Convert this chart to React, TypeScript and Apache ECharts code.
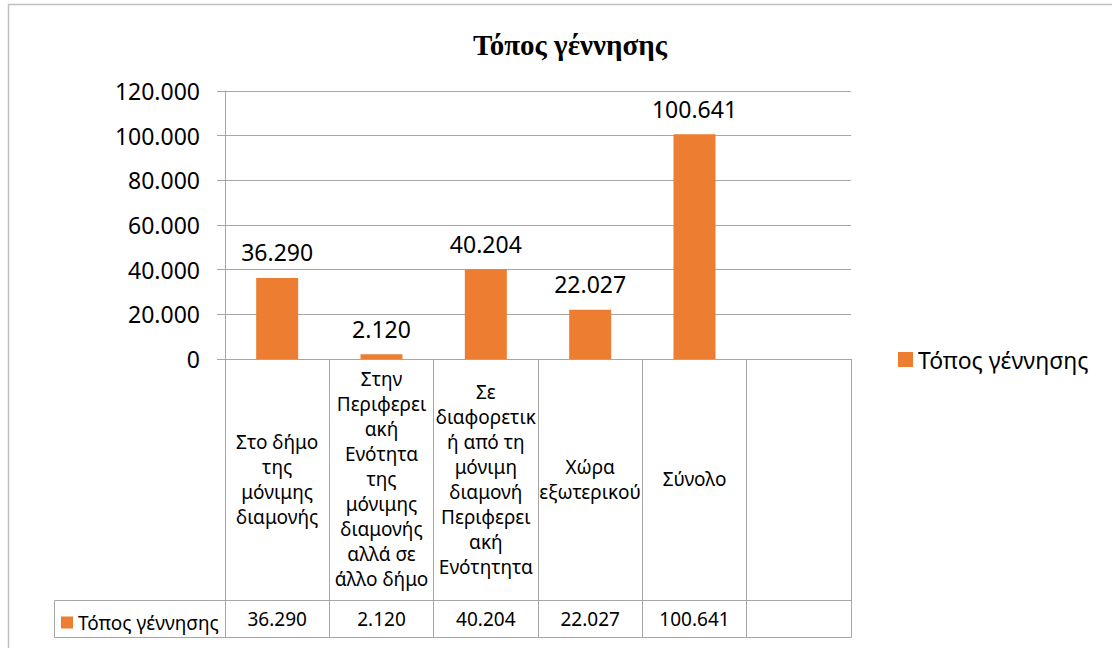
import React, { useEffect, useRef } from "react";
import * as echarts from "echarts";

const TITLE = "Τόπος γέννησης";
const SERIES_NAME = "Τόπος γέννησης";
const categories = [
  "Στο δήμο\nτης\nμόνιμης\nδιαμονής",
  "Στην\nΠεριφερει\nακή\nΕνότητα\nτης\nμόνιμης\nδιαμονής\nαλλά σε\nάλλο δήμο",
  "Σε\nδιαφορετικ\nή από τη\nμόνιμη\nδιαμονή\nΠεριφερει\nακή\nΕνότητητα",
  "Χώρα\nεξωτερικού",
  "Σύνολο",
  "",
];
const values: (number | null)[] = [36290, 2120, 40204, 22027, 100641, null];
const yMin = 0;
const yMax = 120000;
const yInterval = 20000;

const fmt = (v: number | null | undefined) =>
  v === null || v === undefined ? "" : String(v).replace(/\B(?=(\d{3})+(?!\d))/g, ".");

const W = 1112;
const H = 648;
const GL = 225;
const GR = 851;
const GT = 91;
const GB = 359;
const HEADER_H = 241;
const ROW_H = 37;
const TABLE_LEFT = 54;
const LINE = "#a6a6a6";
const FONT = "'Noto Sans', sans-serif";
const ORANGE = "#ED7D31";

export default function App() {
  const ref = useRef<HTMLDivElement>(null);
  useEffect(() => {
    if (!ref.current) return;
    const chart = echarts.init(ref.current, null, { renderer: "svg" });
    const rowTop = GB + HEADER_H;
    const rowBottom = rowTop + ROW_H;
    chart.setOption({
      animation: false,
      backgroundColor: "#fff",
      textStyle: { fontFamily: FONT },
      title: {
        text: TITLE,
        left: 468,
        top: 25,
        textStyle: {
          fontFamily: "'Liberation Serif', serif",
          fontWeight: "bold",
          fontSize: 29,
          color: "#000",
        },
      },
      legend: [
        {
          data: [SERIES_NAME],
          left: 893,
          top: 343,
          orient: "vertical",
          itemWidth: 15,
          itemHeight: 15,
          icon: "rect",
          textStyle: { fontSize: 23, color: "#000", fontFamily: FONT },
        },
        {
          data: [SERIES_NAME],
          left: 56,
          top: rowTop + 8,
          itemWidth: 12,
          itemHeight: 12,
          icon: "rect",
          selectedMode: false,
          textStyle: { fontSize: 19, color: "#000", fontFamily: FONT },
        },
      ],
      grid: { left: GL, right: W - GR, top: GT, bottom: H - GB, containLabel: false },
      xAxis: [
        {
          type: "category",
          data: categories,
          axisLine: { show: true, lineStyle: { color: LINE } },
          axisTick: { show: true, length: HEADER_H + ROW_H, lineStyle: { color: LINE } },
          axisLabel: {
            interval: 0,
            margin: 120,
            verticalAlign: "middle",
            align: "center",
            fontSize: 19,
            lineHeight: 25,
            color: "#000",
            fontFamily: FONT,
          },
        },
        {
          type: "category",
          data: categories,
          position: "bottom",
          offset: HEADER_H,
          axisLine: { show: true, lineStyle: { color: LINE } },
          axisTick: { show: false },
          axisLabel: {
            interval: 0,
            margin: ROW_H / 2,
            verticalAlign: "middle",
            fontSize: 19,
            color: "#000",
            fontFamily: FONT,
            formatter: (_v: string, i: number) => fmt(values[i]),
          },
        },
      ],
      yAxis: {
        type: "value",
        min: yMin,
        max: yMax,
        interval: yInterval,
        axisLine: { show: true, lineStyle: { color: LINE } },
        axisTick: { show: true, length: 8, lineStyle: { color: LINE } },
        splitLine: { show: true, lineStyle: { color: LINE, width: 1 } },
        axisLabel: {
          margin: 25,
          fontSize: 23,
          color: "#000",
          fontFamily: FONT,
          formatter: (v: number) => fmt(v),
        },
      },
      graphic: [
        {
          type: "rect",
          silent: true,
          shape: { x: 8.5, y: 4.5, width: W + 20, height: H + 20 },
          style: { fill: "none", stroke: "#bfbfbf", lineWidth: 1.5 },
        },
        {
          type: "rect",
          silent: true,
          shape: { x: TABLE_LEFT + 0.5, y: rowTop + 0.5, width: GR - TABLE_LEFT, height: ROW_H },
          style: { fill: "none", stroke: LINE, lineWidth: 1 },
        },
        {
          type: "line",
          silent: true,
          shape: { x1: GL + 0.5, y1: rowTop, x2: GL + 0.5, y2: rowBottom },
          style: { stroke: LINE, lineWidth: 1 },
        },
      ],
      series: [
        {
          name: SERIES_NAME,
          type: "bar",
          data: values,
          barWidth: 42,
          itemStyle: { color: ORANGE },
          label: {
            show: true,
            position: "top",
            distance: 14,
            fontSize: 23,
            color: "#000",
            fontFamily: FONT,
            formatter: (p: any) => fmt(p.value),
          },
        },
      ],
    });
    return () => chart.dispose();
  }, []);
  return (
    <div
      ref={ref}
      style={{ position: "absolute", left: 0, top: 0, width: W, height: H }}
    />
  );
}
